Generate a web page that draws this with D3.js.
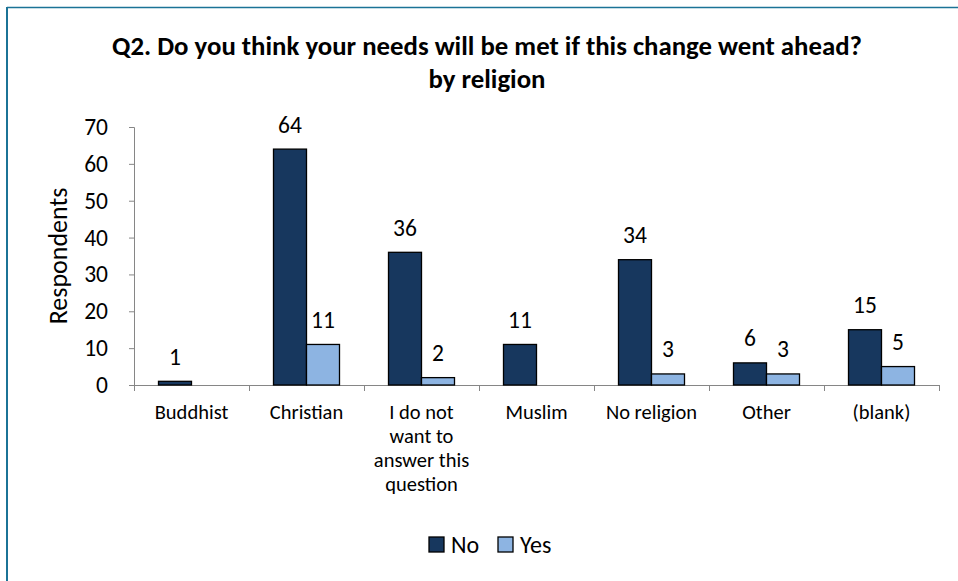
<!DOCTYPE html>
<html>
<head>
<meta charset="utf-8">
<script src="https://cdn.jsdelivr.net/npm/d3@7"></script>
<style>
  html, body { margin: 0; padding: 0; background: #ffffff; }
  svg { display: block; font-family: Carlito, Calibri, Lato, "Open Sans", sans-serif; }
</style>
</head>
<body>
<svg id="chart" width="958" height="581"></svg>
<script>
const titleLines = ["Q2. Do you think your needs will be met if this change went ahead?", "by religion"];
const categories = ["Buddhist", "Christian", "I do not want to answer this question", "Muslim", "No religion", "Other", "(blank)"];
const categoryLabels = [["Buddhist"], ["Christian"], ["I do not", "want to", "answer this", "question"], ["Muslim"], ["No religion"], ["Other"], ["(blank)"]];
const seriesNames = ["No", "Yes"];
const noValues = [1, 64, 36, 11, 34, 6, 15];
const yesValues = [null, 11, 2, null, 3, 3, 5];
const yTicks = [0, 10, 20, 30, 40, 50, 60, 70];
const yAxisTitle = "Respondents";
const colors = ["#17375E", "#8DB4E2"];

const svg = d3.select("#chart");
const plotL = 134, plotR = 939, plotT = 127, plotB = 385;

// border
svg.append("line").attr("x1", 7).attr("x2", 958).attr("y1", 7.5).attr("y2", 7.5)
  .attr("stroke", "#1B7396").attr("stroke-width", 1.5);
svg.append("line").attr("x1", 7).attr("x2", 7).attr("y1", 7).attr("y2", 581)
  .attr("stroke", "#1B7396").attr("stroke-width", 2);

// title
const title = svg.append("text").attr("text-anchor", "middle")
  .attr("font-weight", "bold").attr("font-size", 26.8).attr("fill", "#000");
titleLines.forEach((t, i) => title.append("tspan").attr("x", 487).attr("y", 55 + i * 33).text(t));

const x0 = d3.scaleBand().domain(categories).range([plotL, plotR]).padding(0);
const x1 = d3.scaleBand().domain(seriesNames).range([24.5, 90.5]).padding(0);
const y = d3.scaleLinear().domain([0, 70]).range([plotB, plotT]);

const data = categories.map((c, i) => ({ cat: c, vals: [
  { s: "No", v: noValues[i] }, { s: "Yes", v: yesValues[i] }] }));

// axes
const yAxis = d3.axisLeft(y).tickValues(yTicks).tickSize(5).tickPadding(21);
const gy = svg.append("g").attr("transform", `translate(${plotL},0)`).call(yAxis);
gy.attr("font-family", null).attr("font-size", null);
gy.select(".domain").attr("stroke", "#868686");
gy.selectAll(".tick line").attr("stroke", "#868686");
gy.selectAll(".tick text").attr("font-size", 23.5).attr("fill", "#000");

const xAxis = d3.axisBottom(x0).tickSize(0).tickFormat("");
const gx = svg.append("g").attr("transform", `translate(0,${plotB})`).call(xAxis);
gx.select(".domain").attr("stroke", "#868686").attr("d", `M${plotL},0.5H${plotR}`);
gx.selectAll(".tick").remove();
const bounds = categories.map(c => x0(c)).concat([plotR]);
gx.selectAll("line.sep").data(bounds).join("line").attr("class", "sep")
  .attr("x1", d => d + 0.5).attr("x2", d => d + 0.5).attr("y1", 0).attr("y2", 6)
  .attr("stroke", "#868686");

// category labels
categories.forEach((c, i) => {
  const t = svg.append("text").attr("text-anchor", "middle").attr("font-size", 20.5).attr("fill", "#000");
  categoryLabels[i].forEach((ln, j) => t.append("tspan")
    .attr("x", x0(c) + x0.bandwidth() / 2).attr("y", 419 + j * 24).text(ln));
});

// bars
const groups = svg.append("g").selectAll("g").data(data).join("g")
  .attr("transform", d => `translate(${x0(d.cat)},0)`);
groups.selectAll("rect").data(d => d.vals.filter(v => v.v != null)).join("rect")
  .attr("x", d => x1(d.s)).attr("width", x1.bandwidth())
  .attr("y", d => y(d.v)).attr("height", d => y(0) - y(d.v))
  .attr("fill", d => colors[seriesNames.indexOf(d.s)])
  .attr("stroke", "#000").attr("stroke-width", 1.3);
groups.selectAll("text").data(d => d.vals.filter(v => v.v != null)).join("text")
  .attr("x", d => x1(d.s) + x1.bandwidth() / 2).attr("y", d => y(d.v) - 16.5)
  .attr("text-anchor", "middle").attr("font-size", 23.5).attr("fill", "#000")
  .text(d => d.v);

// y axis title
svg.append("text").attr("transform", "translate(58,256) rotate(-90)")
  .attr("text-anchor", "middle").attr("dominant-baseline", "central")
  .attr("font-size", 26).attr("fill", "#000").text(yAxisTitle);

// legend
const legend = svg.append("g");
const legX = [429, 498];
seriesNames.forEach((s, i) => {
  legend.append("rect").attr("x", legX[i]).attr("y", 537).attr("width", 15).attr("height", 15)
    .attr("fill", colors[i]).attr("stroke", "#000").attr("stroke-width", 1.3);
  legend.append("text").attr("x", legX[i] + 22).attr("y", 553).attr("font-size", 24)
    .attr("fill", "#000").text(s);
});
</script>
</body>
</html>
